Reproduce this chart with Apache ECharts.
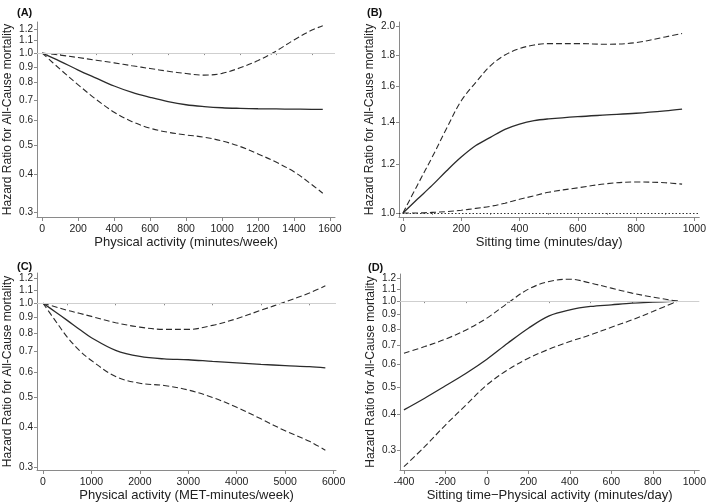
<!DOCTYPE html>
<html><head><meta charset="utf-8">
<script src="https://cdn.jsdelivr.net/npm/echarts@6/dist/echarts.min.js"></script>
<style>html,body{margin:0;padding:0;background:#fff}#c{width:709px;height:504px}</style>
</head><body><div id="c"></div>
<script>
// ---- Data ----
const aX = [0,100,200,300,400,500,600,700,800,900,1000,1100,1200,1300,1400,1500,1560];
const aHR = [1.0,0.94,0.88,0.828,0.78,0.743,0.716,0.693,0.677,0.668,0.662,0.659,0.657,0.656,0.655,0.654,0.654];
const aUpper = [1.0,0.985,0.967,0.948,0.929,0.909,0.89,0.872,0.857,0.847,0.858,0.895,0.945,1.015,1.105,1.19,1.23];
const aLower = [1.0,0.885,0.787,0.705,0.64,0.596,0.567,0.55,0.539,0.53,0.515,0.494,0.467,0.439,0.408,0.37,0.347];

const bX = [0,50,100,150,200,250,300,350,400,450,500,600,700,800,900,958];
const bHR = [1.0,1.053,1.108,1.17,1.231,1.285,1.325,1.365,1.392,1.41,1.419,1.431,1.44,1.449,1.462,1.472];
const bUpper = [1.0,1.11,1.23,1.37,1.518,1.625,1.729,1.8,1.843,1.868,1.878,1.878,1.873,1.885,1.925,1.95];
const bLower = [1.0,1.0,1.002,1.005,1.01,1.017,1.025,1.037,1.052,1.066,1.08,1.098,1.115,1.122,1.119,1.113];

const cX = [0,250,500,750,1000,1500,2000,2500,3000,3500,4000,4500,5000,5500,5830];
const cHR = [1.0,0.94,0.882,0.826,0.776,0.707,0.676,0.664,0.66,0.652,0.645,0.638,0.632,0.627,0.622];
const cUpper = [1.0,0.975,0.95,0.929,0.908,0.867,0.839,0.825,0.825,0.85,0.893,0.95,1.01,1.079,1.137];
const cLower = [1.0,0.882,0.78,0.707,0.656,0.583,0.555,0.546,0.528,0.5,0.465,0.427,0.391,0.362,0.339];

const dX = [-400,-300,-200,-100,0,100,200,300,400,500,600,700,800,920];
const dHR = [0.416,0.457,0.505,0.559,0.626,0.712,0.804,0.888,0.932,0.958,0.971,0.984,0.992,1.0];
const dUpper = [0.657,0.693,0.736,0.793,0.872,0.984,1.102,1.172,1.194,1.157,1.111,1.067,1.033,1.0];
const dLower = [0.263,0.309,0.368,0.433,0.509,0.574,0.631,0.679,0.722,0.762,0.81,0.86,0.92,1.0];

const hrTicksACD = [0.3,0.4,0.5,0.6,0.7,0.8,0.9,1.0,1.1,1.2];
const hrTicksB = [1.0,1.2,1.4,1.6,1.8,2.0];
const aXTicks = [0,200,400,600,800,1000,1200,1400,1600];
const bXTicks = [0,200,400,600,800,1000];
const cXTicks = [0,1000,2000,3000,4000,5000,6000];
const dXTicks = [-400,-200,0,200,400,600,800,1000];

const panelTitles = ['(A)','(B)','(C)','(D)'];
const xNames = ['Physical activity (minutes/week)','Sitting time (minutes/day)','Physical activity (MET-minutes/week)','Sitting time\u2212Physical activity (minutes/day)'];
const yName = 'Hazard Ratio for All-Cause mortality';

// ---- Build ----
const FONT = '"Liberation Sans", Arial, sans-serif';
const axisColor = '#8a8a8a';
const lineColor = '#2b2b2b';
const panels = [
  {x:aX, hr:aHR, up:aUpper, lo:aLower, yt:hrTicksACD, xt:aXTicks, xmin:-29, xmax:1628, ymin:0.29, ymax:1.265,
   grid:{left:37, top:22, width:298, height:195}, ref:'grey'},
  {x:bX, hr:bHR, up:bUpper, lo:bLower, yt:hrTicksB, xt:bXTicks, xmin:-13.6, xmax:1017, ymin:0.985, ymax:2.035,
   grid:{left:399, top:22, width:302, height:195}, ref:'dot'},
  {x:cX, hr:cHR, up:cUpper, lo:cLower, yt:hrTicksACD, xt:cXTicks, xmin:-124, xmax:6050, ymin:0.293, ymax:1.25,
   grid:{left:37, top:273, width:299, height:197}, ref:'grey'},
  {x:dX, hr:dHR, up:dUpper, lo:dLower, yt:hrTicksACD, xt:dXTicks, xmin:-419, xmax:1024, ymin:0.256, ymax:1.245,
   grid:{left:400, top:274, width:302, height:196}, ref:'grey'}
];
const titlePos = [{left:12,top:2},{left:362,top:2},{left:12,top:256},{left:363,top:257}];

function minorOf(t){ const out=[]; for(let i=0;i<t.length-1;i++) out.push((t[i]+t[i+1])/2); return out; }

const grid=[], xAxis=[], yAxis=[], series=[], title=[];
panels.forEach((p,i)=>{
  grid.push(p.grid);
  title.push({text:panelTitles[i], left:titlePos[i].left, top:titlePos[i].top,
    textStyle:{fontFamily:FONT, fontSize:11, fontWeight:'bold', color:'#111'}});
  xAxis.push({type:'value', gridIndex:i, min:p.xmin, max:p.xmax,
    name:xNames[i], nameLocation:'middle', nameGap:19,
    nameTextStyle:{fontFamily:FONT, fontSize:13, color:'#222'},
    axisLine:{show:true, onZero:false, lineStyle:{color:axisColor, width:1}},
    axisTick:{show:true, length:4, customValues:p.xt, lineStyle:{color:axisColor}},
    axisLabel:{show:true, customValues:p.xt, margin:7, fontFamily:FONT, fontSize:10.5, color:'#222',
      hideOverlap:false, formatter:v=>String(Math.round(v))},
    splitLine:{show:false}});
  xAxis.push({type:'value', gridIndex:i, min:p.xmin, max:p.xmax, position:'bottom',
    axisLine:{show:false}, axisTick:{show:true, length:2, customValues:minorOf(p.xt), lineStyle:{color:axisColor}},
    axisLabel:{show:false}, splitLine:{show:false}});
  yAxis.push({type:'value', gridIndex:i, min:Math.log(p.ymin), max:Math.log(p.ymax),
    name:yName, nameLocation:'middle', nameGap:23,
    nameTextStyle:{fontFamily:FONT, fontSize:12, color:'#222'},
    axisLine:{show:true, onZero:false, lineStyle:{color:axisColor, width:1}},
    axisTick:{show:true, length:3, customValues:p.yt.map(Math.log), lineStyle:{color:axisColor}},
    axisLabel:{show:true, customValues:p.yt.map(Math.log), margin:4, fontFamily:FONT, fontSize:10, color:'#222',
      hideOverlap:false, showMinLabel:true, showMaxLabel:true,
      formatter:v=>Math.exp(v).toFixed(1)},
    splitLine:{show:false}});
  const mk = (arr)=>p.x.map((x,k)=>[x, Math.log(arr[k])]);
  const base = {type:'line', xAxisIndex:2*i, yAxisIndex:i, showSymbol:false, symbol:'none', smooth:0.35, silent:true, animation:false};
  series.push(Object.assign({}, base, {name:'hr'+i, data:mk(p.hr), lineStyle:{color:lineColor, width:1.3, type:'solid'}, z:3,
    markLine:{silent:true, symbol:'none', label:{show:false}, animation:false,
      lineStyle: p.ref==='dot' ? {color:'#333', type:[1.5,2], width:1} : {color:'#cfcfcf', type:'solid', width:1},
      data:[{yAxis:0}]}}));
  series.push(Object.assign({}, base, {name:'up'+i, data:mk(p.up), lineStyle:{color:lineColor, width:1.1, type:[6,3]}}));
  series.push(Object.assign({}, base, {name:'lo'+i, data:mk(p.lo), lineStyle:{color:lineColor, width:1.1, type:[6,3]}}));
});

const chart = echarts.init(document.getElementById('c'), null, {renderer:'canvas'});
chart.setOption({backgroundColor:'#fff', animation:false, title, grid, xAxis, yAxis, series});
</script></body></html>
